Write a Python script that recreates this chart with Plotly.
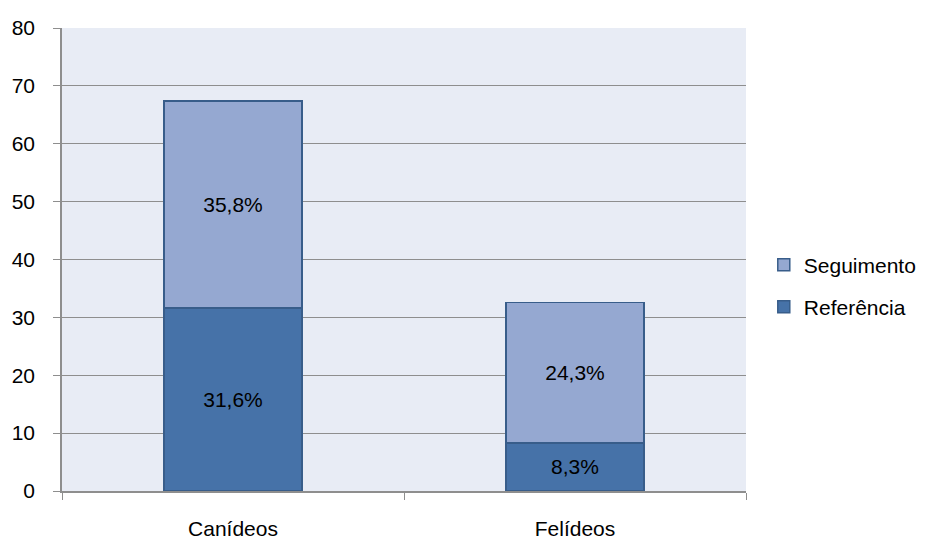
import plotly.graph_objects as go

categorias = ["Canídeos", "Felídeos"]
referencia = [31.6, 8.3]
seguimento = [35.8, 24.3]
y_ticks = [0, 10, 20, 30, 40, 50, 60, 70, 80]


def rotulo(v):
    return f"{v:.1f}".replace(".", ",") + "%"


FONT = "Liberation Sans, Arial, sans-serif"
FS = 21

fig = go.Figure()
fig.add_trace(go.Bar(
    x=categorias, y=referencia, name="Referência",
    text=[rotulo(v) for v in referencia], textposition="inside",
    insidetextanchor="middle",
    textfont=dict(color="black", size=FS, family=FONT),
    marker=dict(color="#4672A8", line=dict(color="#385D8A", width=1.5)),
    legend="legend2", showlegend=True,
))
fig.add_trace(go.Bar(
    x=categorias, y=seguimento, name="Seguimento",
    text=[rotulo(v) for v in seguimento], textposition="inside",
    insidetextanchor="middle",
    textfont=dict(color="black", size=FS, family=FONT),
    marker=dict(color="#95A8D1", line=dict(color="#385D8A", width=1.5)),
    legend="legend", showlegend=True,
))

fig.update_layout(
    width=934, height=540,
    barmode="stack", bargap=0.596,
    showlegend=True,
    paper_bgcolor="white", plot_bgcolor="#E8ECF5",
    margin=dict(l=62, r=188, t=28, b=49),
    font=dict(family=FONT, size=FS, color="black"),
    uniformtext=dict(mode="show", minsize=FS),
    legend=dict(x=1.026, y=0.488, xanchor="left", yanchor="middle",
                itemwidth=30, font=dict(size=FS), bgcolor="rgba(0,0,0,0)"),
    legend2=dict(x=1.026, y=0.397, xanchor="left", yanchor="middle",
                 itemwidth=30, font=dict(size=FS), bgcolor="rgba(0,0,0,0)"),
)
fig.update_yaxes(
    range=[0, 80], tickvals=y_ticks, ticktext=[str(v) for v in y_ticks],
    showgrid=True, gridcolor="#8E8E8E", gridwidth=1,
    showline=True, linecolor="#8E8E8E", linewidth=1.5,
    ticks="outside", ticklen=7, tickcolor="#8E8E8E",
    ticklabelstandoff=14, automargin=False,
    zeroline=False, tickfont=dict(size=FS),
)
fig.update_xaxes(
    showline=True, linecolor="#8E8E8E", linewidth=1.5,
    ticks="outside", ticklen=7, tickcolor="#8E8E8E", tickson="boundaries",
    ticklabelstandoff=18, automargin=False,
    tickfont=dict(size=FS),
)

fig.write_html("out.html")
